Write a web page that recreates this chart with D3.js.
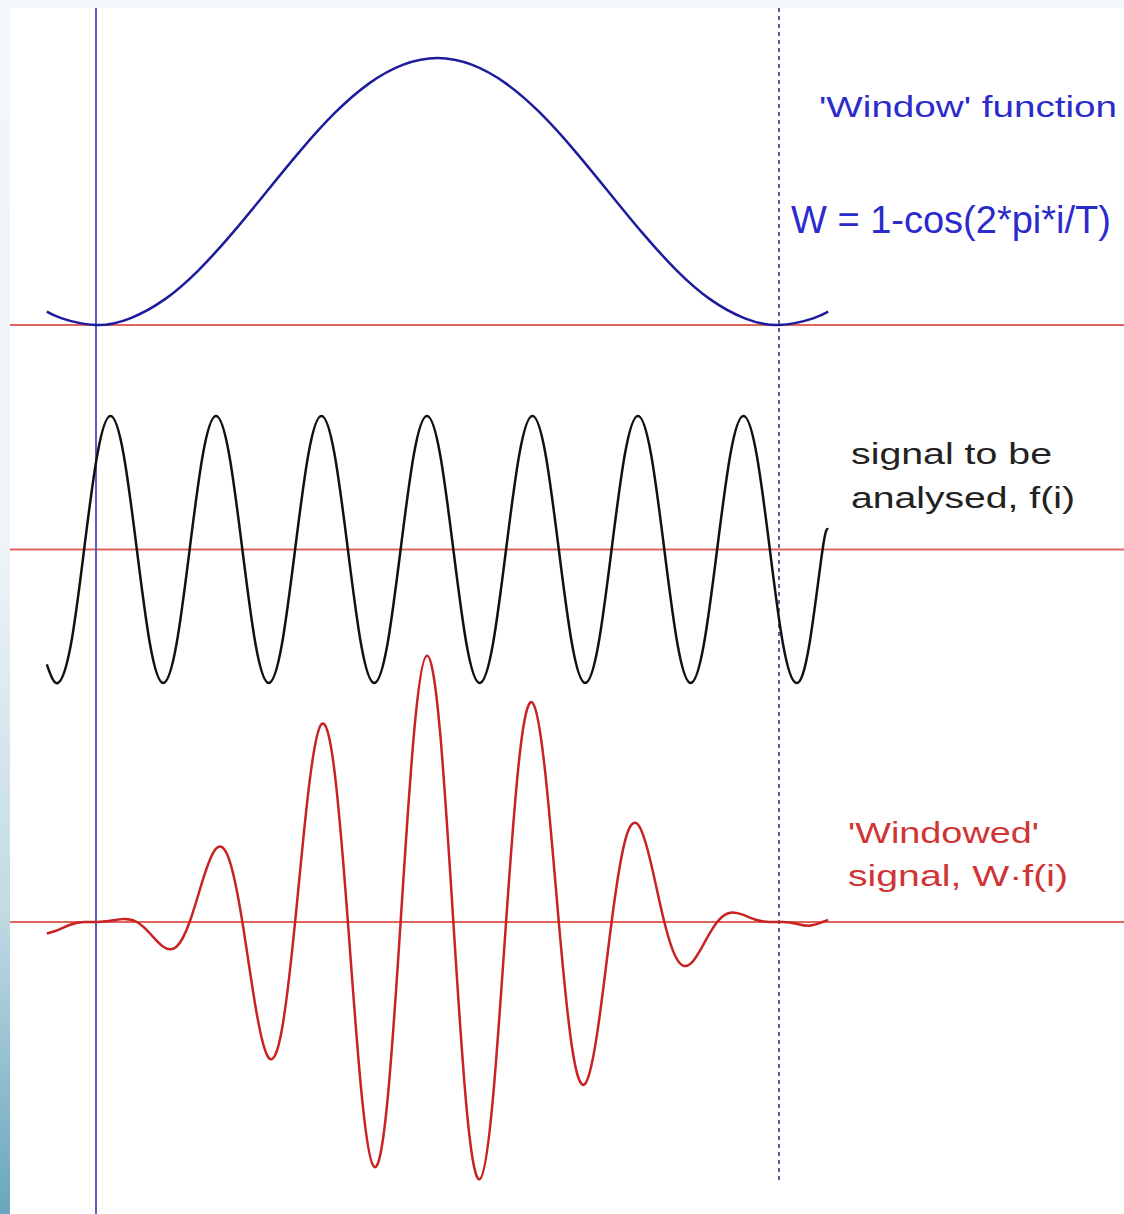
<!DOCTYPE html>
<html>
<head>
<meta charset="utf-8">
<script src="https://cdn.jsdelivr.net/npm/d3@7"></script>
<style>
  html, body { margin: 0; padding: 0; background: #f3f7f9; }
  svg { display: block; }
</style>
</head>
<body>
<div id="chart"></div>
<script>
// sample index i, window period T = 100 (solid line at i = 0, dotted line at i = T)
const windowI = [-7.2, -5, 0, 5, 10, 15, 20, 25, 30, 35, 40, 45, 50, 55, 60, 65, 70, 75, 80, 85, 90, 95, 100, 105, 107.2];
const windowW = [0.10, 0.05, 0, 0.05, 0.19, 0.41, 0.69, 1.0, 1.31, 1.59, 1.81, 1.95, 2.0, 1.95, 1.81, 1.59, 1.31, 1.0, 0.69, 0.41, 0.19, 0.05, 0, 0.05, 0.10];

// points read along the signal, every eighth of its period
const sampleI = [-7.2, -5.60, -3.67, -1.74, 0.19, 2.12, 4.05, 5.98, 7.91, 9.84, 11.78, 13.71, 15.64, 17.57, 19.50,
                 21.43, 23.36, 25.29, 27.22, 29.15, 31.08, 33.01, 34.94, 36.88, 38.81, 40.74, 42.67, 44.60,
                 46.53, 48.46, 50.39, 52.32, 54.25, 56.18, 58.11, 60.04, 61.97, 63.90, 65.83, 67.76, 69.70,
                 71.63, 73.56, 75.49, 77.42, 79.35, 81.28, 83.21, 85.14, 87.07, 89.00, 90.94, 92.87, 94.80,
                 96.73, 98.66, 100.59, 102.52, 104.45, 106.38, 107.2];

// signal to be analysed, f(i)
const signalF = [-0.86, -1, -0.71,
                 0, 0.71, 1, 0.71, 0, -0.71, -1, -0.71,
                 0, 0.71, 1, 0.71, 0, -0.71, -1, -0.71,
                 0, 0.71, 1, 0.71, 0, -0.71, -1, -0.71,
                 0, 0.71, 1, 0.71, 0, -0.71, -1, -0.71,
                 0, 0.71, 1, 0.71, 0, -0.71, -1, -0.71,
                 0, 0.71, 1, 0.71, 0, -0.71, -1, -0.71,
                 0, 0.71, 1, 0.71, 0, -0.71, -1, -0.71,
                 0, 0.15];

// windowed signal, W·f(i)
const windowedV = [-0.086, -0.061, -0.019,
                   0, 0, 0.009, 0.023, 0, -0.086, -0.185, -0.185,
                   0, 0.315, 0.550, 0.467, 0, -0.635, -1.018, -0.805,
                   0, 0.971, 1.482, 1.121, 0, -1.247, -1.835, -1.340,
                   0, 1.397, 1.995, 1.414, 0, -1.389, -1.926, -1.324,
                   0, 1.224, 1.643, 1.092, 0, -0.940, -1.211, -0.771,
                   0, 0.600, 0.730, 0.435, 0, -0.286, -0.312, -0.162,
                   0, 0.070, 0.053, 0.015, 0, 0, -0.013, -0.028,
                   0, 0.015];

const labels = [
  { text: "'Window' function", x: 819, y: 117, size: 30, len: 298, color: "#2b2bcc" },
  { text: "W = 1-cos(2*pi*i/T)", x: 791, y: 233, size: 38, len: null, color: "#2b2bcc" },
  { text: "signal to be", x: 851, y: 464, size: 30, len: 201, color: "#222222" },
  { text: "analysed, f(i)", x: 851, y: 508, size: 30, len: 224, color: "#222222" },
  { text: "'Windowed'", x: 848, y: 843, size: 30, len: 191, color: "#d03535" },
  { text: "signal, W\u00b7f(i)", x: 848, y: 886, size: 30, len: 220, color: "#d03535" }
];

const width = 1124;
const height = 1214;

const svg = d3.select("#chart")
    .append("svg")
    .attr("width", width)
    .attr("height", height);

// slide-like frame: pale top band, gradient strip on the left
const grad = svg.append("defs").append("linearGradient")
    .attr("id", "leftband")
    .attr("x1", 0).attr("y1", 0).attr("x2", 0).attr("y2", 1);
grad.append("stop").attr("offset", "0%").attr("stop-color", "#f3f7f9");
grad.append("stop").attr("offset", "45%").attr("stop-color", "#eef4f7");
grad.append("stop").attr("offset", "75%").attr("stop-color", "#c2dae3");
grad.append("stop").attr("offset", "100%").attr("stop-color", "#68a6bd");

svg.append("rect").attr("width", width).attr("height", height).attr("fill", "#f3f7f9");
svg.append("rect").attr("x", 0).attr("y", 0).attr("width", 10).attr("height", height).attr("fill", "url(#leftband)");
svg.append("rect").attr("x", 10).attr("y", 8).attr("width", width - 10).attr("height", height - 8).attr("fill", "#ffffff");

const x = d3.scaleLinear().domain([0, 100]).range([96, 779]);
const yW = d3.scaleLinear().domain([0, 2]).range([325, 58]);
const yF = d3.scaleLinear().domain([-1, 1]).range([683, 416]);
const yP = d3.scaleLinear().domain([-2, 2]).range([1189, 655]);

// zero lines
svg.selectAll("line.zero")
    .data([yW(0), yF(0), yP(0)])
    .enter()
    .append("line")
    .attr("class", "zero")
    .attr("x1", 10)
    .attr("x2", width)
    .attr("y1", d => d)
    .attr("y2", d => d)
    .attr("stroke", "#e0645e")
    .attr("stroke-width", 2);

// i = 0 and i = T markers
svg.append("line")
    .attr("x1", x(0)).attr("x2", x(0))
    .attr("y1", 8).attr("y2", height)
    .attr("stroke", "#5b5bc6")
    .attr("stroke-width", 2);

svg.append("line")
    .attr("x1", x(100)).attr("x2", x(100))
    .attr("y1", 8).attr("y2", 1183)
    .attr("stroke", "#5e5e9e")
    .attr("stroke-width", 2)
    .attr("stroke-dasharray", "4,4");

function drawCurve(xs, ys, yScale, color) {
    const pts = xs.map((d, k) => [d, ys[k]]);
    const line = d3.line()
        .x(d => x(d[0]))
        .y(d => yScale(d[1]))
        .curve(d3.curveNatural);
    svg.append("path")
        .attr("d", line(pts))
        .attr("fill", "none")
        .attr("stroke", color)
        .attr("stroke-width", 2.5)
        .attr("stroke-linejoin", "round");
}

drawCurve(windowI, windowW, yW, "#1c1c9c");
drawCurve(sampleI, signalF, yF, "#111111");
drawCurve(sampleI, windowedV, yP, "#c82222");

svg.selectAll("text.label")
    .data(labels)
    .enter()
    .append("text")
    .attr("class", "label")
    .attr("x", d => d.x)
    .attr("y", d => d.y)
    .attr("font-family", "'Liberation Sans', Arial, sans-serif")
    .attr("font-size", d => d.size)
    .attr("textLength", d => d.len)
    .attr("lengthAdjust", d => d.len ? "spacingAndGlyphs" : null)
    .attr("fill", d => d.color)
    .text(d => d.text);
</script>
</body>
</html>
